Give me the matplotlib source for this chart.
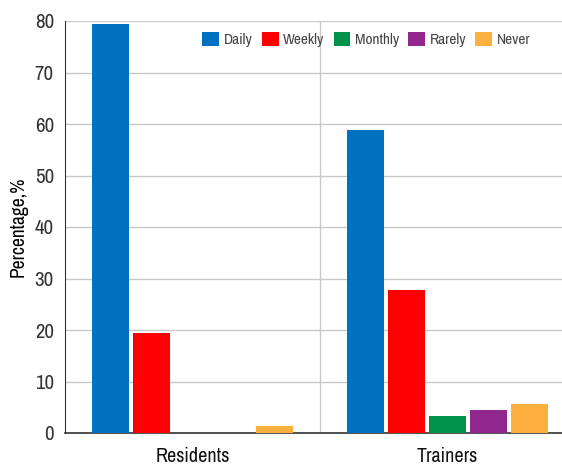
import numpy as np
import matplotlib
matplotlib.use("Agg")
from matplotlib import pyplot as plt
from matplotlib import font_manager

# condensed face, close to the reference typeface
names = sorted({f.name for f in font_manager.fontManager.ttflist})
narrow = [n for n in names if 'Narrow' in n or 'Condensed' in n]
plt.rcParams['font.family'] = narrow[:1] + ['Liberation Sans', 'DejaVu Sans']

groups = ['Residents', 'Trainers']
series = ['Daily', 'Weekly', 'Monthly', 'Rarely', 'Never']
values = {
    'Daily':   [79.4, 58.8],
    'Weekly':  [19.4, 27.8],
    'Monthly': [0.0, 3.3],
    'Rarely':  [0.0, 4.5],
    'Never':   [1.3, 5.6],
}
colors = ['#0070C0', '#FF0000', '#00914A', '#92278F', '#FBB040']

fig = plt.figure(figsize=(5.62, 4.66), dpi=100)
ax = fig.add_axes([65/562, 33/466, 497/562, 412/466])

x = np.arange(len(groups))
width = 0.145
step = 0.161
for i, s in enumerate(series):
    ax.bar(x + (i - 2) * step, values[s], width, color=colors[i], label=s, zorder=3)

ax.set_xlim(-0.5, 1.451)
ax.set_ylim(0, 80)
ax.set_yticks(range(0, 81, 10))
ax.set_xticks(x)
ax.set_xticklabels(groups, fontsize=14.5)
ax.tick_params(axis='y', labelsize=15, length=0, pad=8, labelcolor='#333333')
ax.tick_params(axis='x', length=0, pad=10, labelcolor='#111111')
ax.yaxis.grid(True, color='#c8c8c8', linewidth=1, zorder=0)
ax.axvline(0.5, color='#c8c8c8', linewidth=1, zorder=0)
ax.set_ylabel('Percentage,%', fontsize=14, labelpad=5)

for sp in ['top', 'right']:
    ax.spines[sp].set_visible(False)
ax.spines['left'].set_color('#333333')
ax.spines['bottom'].set_color('#333333')
ax.spines['bottom'].set_linewidth(1.2)

ax.legend(ncol=5, loc='upper left', bbox_to_anchor=(0.255, 1.0), frameon=False,
          fontsize=11, handlelength=1.1, handleheight=1.1, handletextpad=0.3,
          columnspacing=0.6, borderaxespad=0.3, labelcolor='#444444')

plt.savefig('out.png', dpi=100)
